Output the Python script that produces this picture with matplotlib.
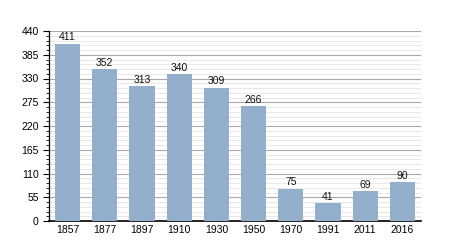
import matplotlib
matplotlib.use("Agg")
import matplotlib.pyplot as plt
from matplotlib.ticker import MultipleLocator

plt.rcParams["font.family"] = ["Liberation Sans", "DejaVu Sans"]

# data
years = ["1857", "1877", "1897", "1910", "1930", "1950", "1970", "1991", "2011", "2016"]
population = [411, 352, 313, 340, 309, 266, 75, 41, 69, 90]

BAR_COLOR = "#94afcb"

fig = plt.figure(figsize=(4.5, 2.5), dpi=100)
ax = fig.add_axes([49 / 450, 1 - 221 / 250, (421 - 49) / 450, (221 - 31) / 250])

x = range(len(years))
ax.bar(x, population, width=0.68, color=BAR_COLOR, zorder=3)
for xi, v in zip(x, population):
    ax.text(xi, v + 3, str(v), ha="center", va="bottom", fontsize=7.5, color="#111111", zorder=4)

ax.set_xlim(-0.5, len(years) - 0.5)
ax.set_ylim(0, 440)
ax.set_xticks(list(x))
ax.set_xticklabels(years, fontsize=7.5)
ax.yaxis.set_major_locator(MultipleLocator(55))
ax.yaxis.set_minor_locator(MultipleLocator(11))
ax.tick_params(axis="y", labelsize=7.5, length=4, width=0.8, direction="out")
ax.tick_params(axis="y", which="minor", length=2, width=0.6)
ax.tick_params(axis="x", length=0, pad=3)

ax.grid(axis="y", which="major", color="#a8a8a8", linewidth=0.8, zorder=1)
ax.grid(axis="y", which="minor", color="#e4e4e4", linewidth=0.6, zorder=0)

for side in ["top", "right"]:
    ax.spines[side].set_visible(False)
ax.spines["left"].set_linewidth(0.9)
ax.spines["bottom"].set_linewidth(1.2)

fig.savefig("out.png", dpi=100)
